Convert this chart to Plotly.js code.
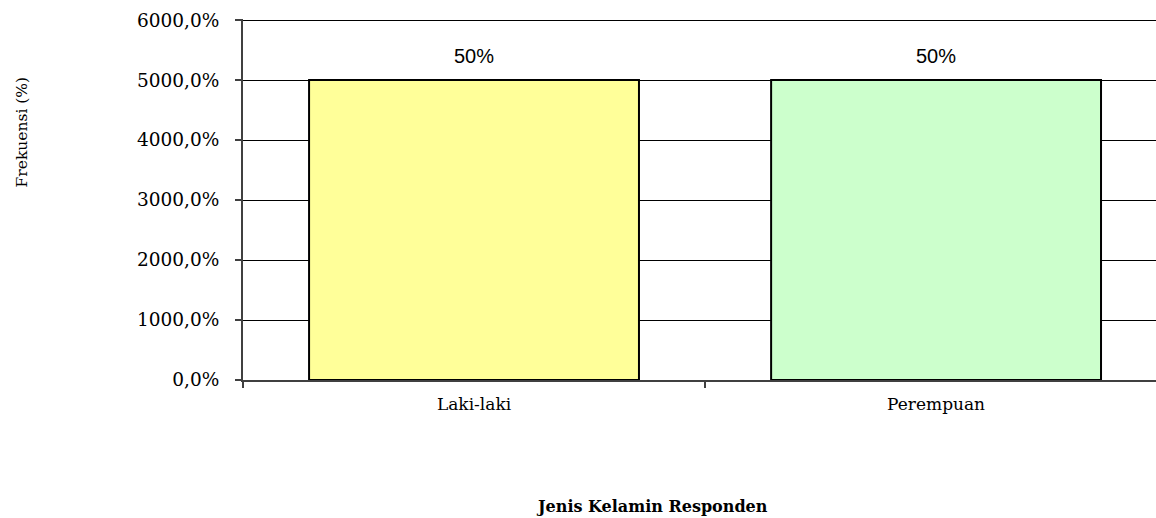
<!DOCTYPE html>
<html>
<head>
<meta charset="utf-8">
<script src="https://cdn.plot.ly/plotly-3.0.1.min.js"></script>
<style>html,body{margin:0;padding:0;background:#fff;overflow:hidden}#chart{width:1156px;height:518px}</style>
</head>
<body>
<div id="chart"></div>
<script>
const categories = ["Laki-laki", "Perempuan"];
const values = [50, 50];           // axis shows value as percent-of-percent (Excel 0.0% format)
const valueLabels = ["50%", "50%"];
const barColors = ["#FFFF99", "#CCFFCC"];
const yTickVals = [0, 10, 20, 30, 40, 50, 60];

const serif = "DejaVu Serif, Liberation Serif, serif";

const trace = {
  type: "bar",
  x: categories,
  y: values,
  width: 0.714,
  marker: { color: barColors, line: { color: "#000", width: 2 } },
  hoverinfo: "skip"
};

const annotations = categories.map((c, i) => ({
  x: c, y: values[i], xref: "x", yref: "y",
  text: valueLabels[i], showarrow: false,
  yanchor: "bottom", yshift: 11,
  font: { family: "Liberation Sans, Arial, sans-serif", size: 20, color: "#000" }
}));
annotations.push({
  xref: "paper", yref: "paper", x: 0.448, y: -0.35,
  text: "<b>Jenis Kelamin Responden</b>", showarrow: false,
  xanchor: "center", yanchor: "middle",
  font: { family: serif, size: 16, color: "#000" }
});
annotations.push({
  xref: "paper", yref: "paper", x: -0.242, y: 0.686,
  text: "Frekuensi (%)", showarrow: false, textangle: -90,
  xanchor: "center", yanchor: "middle",
  font: { family: serif, size: 15.5, color: "#000" }
});

const layout = {
  width: 1156, height: 518,
  margin: { l: 243, r: 0, t: 19, b: 138 },
  paper_bgcolor: "#fff", plot_bgcolor: "#fff",
  separators: ",.",
  showlegend: false,
  xaxis: {
    range: [-0.5, 1.476],
    tickson: "boundaries", ticks: "outside", ticklen: 6, tickcolor: "#404040", tickwidth: 1.5,
    showline: true, linecolor: "#404040", linewidth: 1.5,
    showgrid: false, zeroline: false,
    ticklabelstandoff: 8,
    tickfont: { family: serif, size: 17, color: "#000" },
    fixedrange: true
  },
  yaxis: {
    range: [0, 60.17],
    tickvals: yTickVals,
    ticktext: yTickVals.map(v => (v * 100).toFixed(1).replace(".", ",") + "%"),
    ticks: "outside", ticklen: 6, tickcolor: "#404040", tickwidth: 1.5,
    showline: true, linecolor: "#404040", linewidth: 2,
    showgrid: true, gridcolor: "#000", gridwidth: 1,
    zeroline: false,
    ticklabelstandoff: 12,
    tickfont: { family: serif, size: 18.5, color: "#000" },
    fixedrange: true
  },
  annotations: annotations,
  bargap: 0
};

Plotly.newPlot("chart", [trace], layout, { displayModeBar: false, staticPlot: true });
</script>
</body>
</html>
